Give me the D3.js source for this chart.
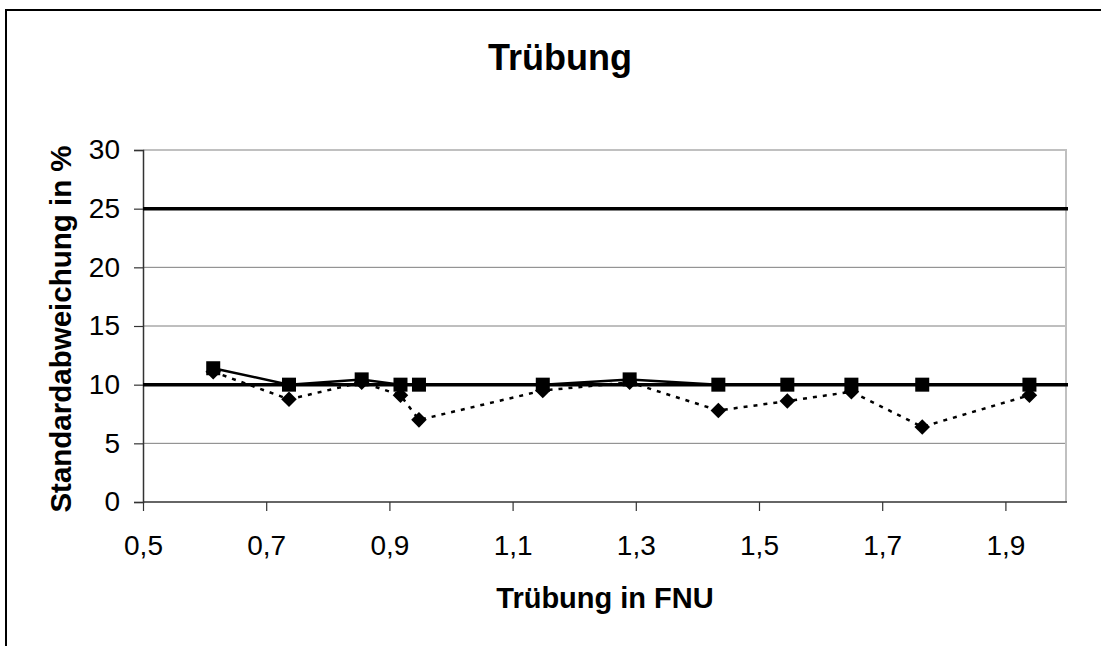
<!DOCTYPE html>
<html>
<head>
<meta charset="utf-8">
<title>Trübung</title>
<script src="https://cdn.jsdelivr.net/npm/d3@7"></script>
<style>
  body { margin: 0; background: #fff; }
  svg { display: block; font-family: "Liberation Sans", Arial, sans-serif; }
</style>
</head>
<body>
<svg></svg>
<script>
const WIDTH = 1101;
const HEIGHT = 646;

// Trübung in FNU (x values)
const turbidity = [0.614, 0.737, 0.855, 0.918, 0.948, 1.149, 1.290, 1.434, 1.546, 1.650, 1.765, 1.939];
// solid line with squares
const seriesSquare = [11.4, 10.0, 10.45, 10.0, 10.0, 10.0, 10.45, 10.0, 10.0, 10.0, 10.0, 10.0];
// dotted line with diamonds
const seriesDiamond = [11.1, 8.75, 10.2, 9.1, 7.0, 9.5, 10.2, 7.8, 8.6, 9.4, 6.4, 9.1];
// horizontal limit lines
const limits = [10, 25];

const xTicks = [0.5, 0.7, 0.9, 1.1, 1.3, 1.5, 1.7, 1.9];
const yTicks = [0, 5, 10, 15, 20, 25, 30];
const gridValues = [5, 15, 20];

const plot = { left: 143, right: 1067, top: 150, bottom: 502 };

const svg = d3.select("svg")
    .attr("width", WIDTH)
    .attr("height", HEIGHT);

// outer frame of the chart
svg.append("rect")
    .attr("x", 6).attr("y", 10)
    .attr("width", 1120).attr("height", 660)
    .attr("fill", "none")
    .attr("stroke", "#000")
    .attr("stroke-width", 2);

const x = d3.scaleLinear().domain([0.5, 2.0]).range([plot.left, plot.right]);
const y = d3.scaleLinear().domain([0, 30]).range([plot.bottom, plot.top]);

// gridlines
svg.append("g").selectAll("line")
    .data(gridValues)
    .join("line")
    .attr("x1", plot.left).attr("x2", plot.right - 1)
    .attr("y1", d => y(d)).attr("y2", d => y(d))
    .attr("stroke", "#7f7f7f")
    .attr("stroke-width", 1);

// plot area border (top and right)
svg.append("path")
    .attr("d", `M${plot.left},${y(30)}H${plot.right - 1}V${plot.bottom}`)
    .attr("fill", "none")
    .attr("stroke", "#c0c0c0")
    .attr("stroke-width", 2);

// axes
const xAxis = svg.append("g")
    .attr("transform", `translate(0,${plot.bottom})`)
    .call(d3.axisBottom(x).tickValues(xTicks).tickSize(9).tickPadding(24)
        .tickFormat(d => d3.format(".1f")(d).replace(".", ",")));

const yAxis = svg.append("g")
    .attr("transform", `translate(${plot.left},0)`)
    .call(d3.axisLeft(y).tickValues(yTicks).tickSize(9).tickPadding(14));

[xAxis, yAxis].forEach(a => {
    a.select(".domain").attr("stroke", "#333").attr("stroke-width", 1.5);
    a.selectAll(".tick line").attr("stroke", "#333").attr("stroke-width", 1.2);
    a.selectAll("text")
        .attr("fill", "#000")
        .style("font-size", "28px")
        .style("font-family", "'Liberation Sans', Arial, sans-serif");
});
xAxis.select(".domain").attr("d", `M${plot.left},0H${plot.right}`);

// limit lines
svg.append("g").selectAll("line")
    .data(limits)
    .join("line")
    .attr("x1", x(0.5)).attr("x2", x(2.0) + 1)
    .attr("y1", d => y(d)).attr("y2", d => y(d))
    .attr("stroke", "#000")
    .attr("stroke-width", 3.5);

const diamondData = turbidity.map((t, i) => [t, seriesDiamond[i]]);
const squareData = turbidity.map((t, i) => [t, seriesSquare[i]]);

const line = d3.line().x(d => x(d[0])).y(d => y(d[1]));

// dotted series with diamonds
svg.append("path")
    .datum(diamondData)
    .attr("d", line)
    .attr("fill", "none")
    .attr("stroke", "#000")
    .attr("stroke-width", 2.5)
    .attr("stroke-dasharray", "4,6");

svg.append("g").selectAll("path")
    .data(diamondData)
    .join("path")
    .attr("transform", d => `translate(${x(d[0])},${y(d[1])}) rotate(45)`)
    .attr("d", "M-5.5,-5.5H5.5V5.5H-5.5Z")
    .attr("fill", "#000");

// solid series with squares
svg.append("path")
    .datum(squareData)
    .attr("d", line)
    .attr("fill", "none")
    .attr("stroke", "#000")
    .attr("stroke-width", 2.5);

svg.append("g").selectAll("rect")
    .data(squareData)
    .join("rect")
    .attr("x", d => x(d[0]) - 7)
    .attr("y", d => y(d[1]) - 7)
    .attr("width", 14).attr("height", 14)
    .attr("fill", "#000");

// titles
svg.append("text")
    .attr("x", 560).attr("y", 70)
    .attr("text-anchor", "middle")
    .style("font-size", "36px")
    .style("font-weight", "bold")
    .text("Trübung");

svg.append("text")
    .attr("x", (plot.left + plot.right) / 2).attr("y", 608)
    .attr("text-anchor", "middle")
    .style("font-size", "29px")
    .style("font-weight", "bold")
    .text("Trübung in FNU");

svg.append("text")
    .attr("transform", `translate(71,${(plot.top + plot.bottom) / 2 + 3}) rotate(-90)`)
    .attr("text-anchor", "middle")
    .style("font-size", "29.5px")
    .style("font-weight", "bold")
    .text("Standardabweichung in %");
</script>
</body>
</html>
